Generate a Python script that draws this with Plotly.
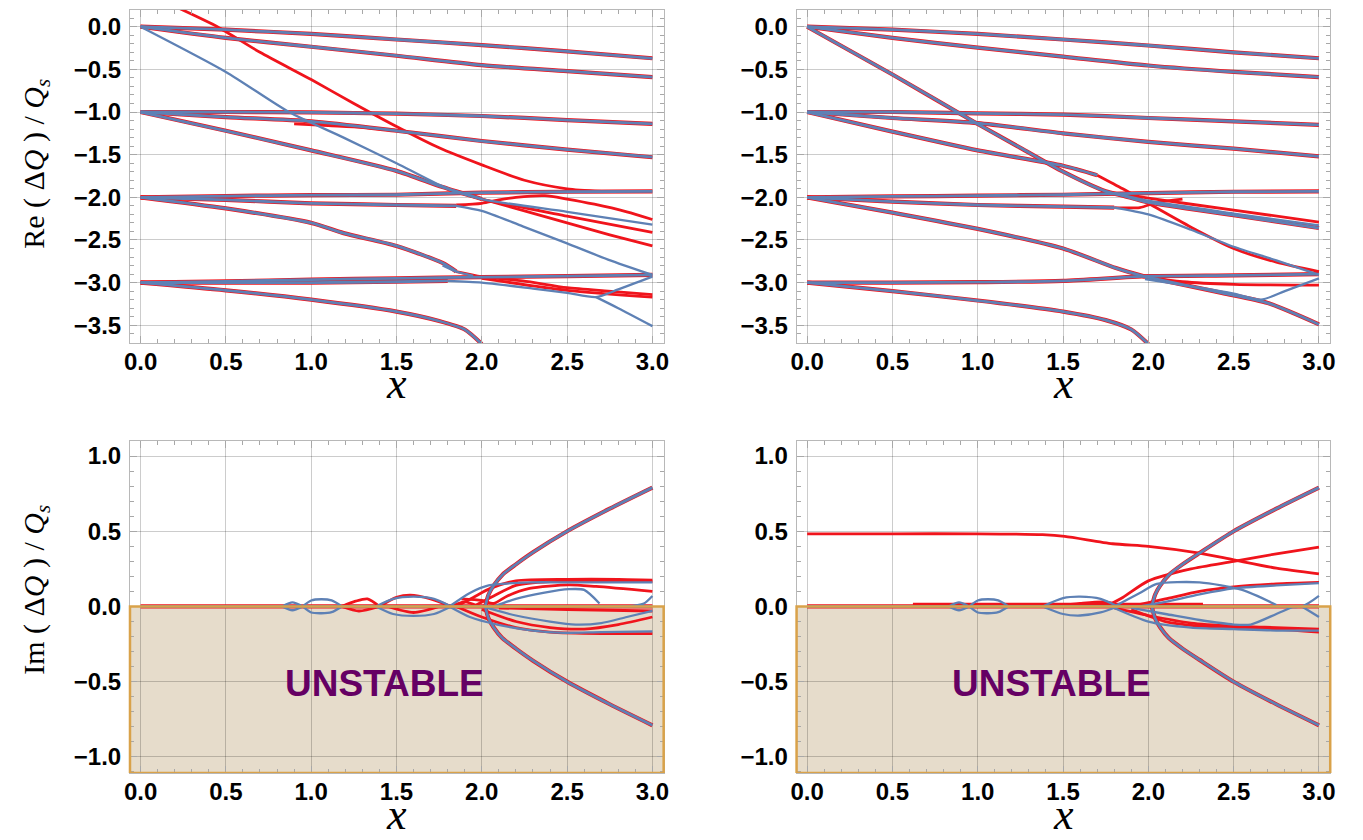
import plotly.graph_objects as go

# ---------------- styling constants ----------------
RED = "#f0141c"
BLUE = "#5e81b5"
FRAME = "#b8b8b8"
TICKC = "#a8a8a8"
GRID = "rgba(0,0,0,0.2)"
TAN = "#e6dccb"
ORANGE = "#d9a24a"
PURPLE_TXT = "#650064"

# ---------------- tick values / labels ----------------
X_TICKS = [0.0, 0.5, 1.0, 1.5, 2.0, 2.5, 3.0]
X_TICK_TEXT = ["0.0", "0.5", "1.0", "1.5", "2.0", "2.5", "3.0"]
RE_TICKS = [0.0, -0.5, -1.0, -1.5, -2.0, -2.5, -3.0, -3.5]
RE_TICK_TEXT = ["0.0", "\u22120.5", "\u22121.0", "\u22121.5", "\u22122.0", "\u22122.5", "\u22123.0", "\u22123.5"]
IM_TICKS = [1.0, 0.5, 0.0, -0.5, -1.0]
IM_TICK_TEXT = ["1.0", "0.5", "0.0", "\u22120.5", "\u22121.0"]

X7 = [0.0, 0.5, 1.0, 1.5, 2.0, 2.5, 3.0]

# ================= Re(dQ)/Qs, left panel =================
re_left_both = [
    (X7, [0.0, -0.035, -0.085, -0.15, -0.215, -0.29, -0.37]),
    (X7, [0.0, -0.13, -0.235, -0.34, -0.45, -0.52, -0.59]),
    (X7, [-1.0, -1.0, -1.005, -1.02, -1.047, -1.094, -1.14]),
    (X7, [-1.0, -1.06, -1.11, -1.22, -1.34, -1.44, -1.53]),
    ([0.0, 0.5, 1.0, 1.5, 1.77, 2.0], [-1.0, -1.22, -1.45, -1.69, -1.88, -2.02]),
    (X7, [-2.0, -1.985, -1.975, -1.97, -1.945, -1.935, -1.93]),
    ([0.0, 0.5, 1.0, 1.5, 1.85], [-2.0, -2.03, -2.07, -2.09, -2.1]),
    ([0.0, 0.5, 1.0, 1.19, 1.5, 1.77, 1.85], [-2.0, -2.13, -2.3, -2.42, -2.57, -2.77, -2.87]),
    (X7, [-3.0, -2.985, -2.965, -2.95, -2.935, -2.925, -2.91]),
    ([0.0, 0.5, 1.0, 1.5, 1.8], [-3.0, -3.0, -3.0, -2.99, -2.98]),
    ([0.0, 0.5, 1.0, 1.5, 1.75, 1.9, 2.0], [-3.0, -3.09, -3.2, -3.34, -3.45, -3.55, -3.72]),
]
re_left_red = [
    ([0.2, 0.45, 0.7, 1.0, 1.25, 1.5, 1.75, 2.0, 2.25, 2.5, 2.7],
     [0.24, 0.0, -0.3, -0.62, -0.9, -1.17, -1.42, -1.62, -1.8, -1.9, -1.93]),
    ([0.9, 1.1, 1.3, 1.45], [-1.14, -1.16, -1.18, -1.21]),
    ([2.0, 2.25, 2.5, 2.75, 3.0], [-2.02, -2.16, -2.3, -2.44, -2.57]),
    ([1.9, 2.0, 2.5, 3.0], [-1.96, -2.02, -2.22, -2.41]),
    ([1.85, 2.0, 2.1, 2.2, 2.37, 2.5, 2.66, 2.85, 3.0],
     [-2.09, -2.07, -2.03, -2.0, -1.98, -2.02, -2.08, -2.17, -2.26]),
    ([1.85, 2.0, 2.24, 2.5, 2.74, 3.0], [-2.87, -2.93, -2.98, -3.06, -3.1, -3.14]),
    ([2.0, 2.5, 3.0], [-2.95, -3.09, -3.17]),
]
re_left_blue = [
    ([0.0, 0.5, 0.87, 1.19, 1.5, 1.77, 2.0, 2.5, 3.0],
     [0.0, -0.53, -1.0, -1.3, -1.6, -1.87, -2.02, -2.17, -2.32]),
    ([1.85, 2.0, 2.24, 2.5, 2.74, 3.0], [-2.1, -2.16, -2.34, -2.54, -2.73, -2.91]),
    ([1.77, 1.85, 1.95], [-2.8, -2.87, -2.92]),
    ([1.8, 2.0, 2.3, 2.5, 2.67, 2.8, 3.0], [-2.98, -3.0, -3.07, -3.12, -3.17, -3.08, -2.93]),
    ([2.67, 2.8, 3.0], [-3.17, -3.3, -3.51]),
]

# ================= Re(dQ)/Qs, right panel =================
re_right_both = [
    (X7, [0.0, -0.035, -0.085, -0.15, -0.22, -0.3, -0.37]),
    (X7, [0.0, -0.13, -0.245, -0.35, -0.455, -0.53, -0.59]),
    (X7, [-1.0, -1.0, -1.015, -1.03, -1.07, -1.11, -1.15]),
    (X7, [-1.0, -1.07, -1.13, -1.25, -1.35, -1.43, -1.52]),
    ([0.0, 0.5, 1.0, 1.5, 1.7], [-1.0, -1.23, -1.45, -1.63, -1.74]),
    ([0.0, 0.5, 1.0, 1.25, 1.5, 1.75, 1.85, 2.0, 2.5, 3.0],
     [0.0, -0.56, -1.14, -1.42, -1.7, -1.93, -1.98, -2.06, -2.21, -2.36]),
    (X7, [-2.0, -1.99, -1.98, -1.97, -1.95, -1.935, -1.93]),
    ([0.0, 0.5, 1.0, 1.5, 1.8], [-2.0, -2.05, -2.09, -2.11, -2.12]),
    ([0.0, 0.5, 1.0, 1.5, 1.81, 1.98], [-2.0, -2.18, -2.37, -2.6, -2.83, -2.93]),
    ([1.98, 2.43, 2.7, 3.0], [-2.93, -3.12, -3.24, -3.49]),
    (X7, [-3.0, -3.0, -2.995, -2.98, -2.925, -2.915, -2.9]),
    ([0.0, 0.5, 1.0, 1.5, 1.75, 1.9, 2.0], [-3.0, -3.1, -3.21, -3.34, -3.44, -3.55, -3.72]),
]
re_right_red = [
    ([1.85, 2.0, 2.5, 3.0], [-1.96, -2.01, -2.15, -2.29]),
    ([1.7, 1.85, 2.0, 2.25, 2.5, 2.75, 3.0], [-1.74, -1.9, -2.07, -2.35, -2.6, -2.76, -2.87]),
    ([1.8, 1.95, 2.05, 2.2], [-2.12, -2.12, -2.06, -2.02]),
    ([1.98, 2.2, 2.5, 3.0], [-2.93, -2.99, -3.02, -3.03]),
]
re_right_blue = [
    ([1.8, 2.0, 2.5, 3.0], [-1.95, -2.04, -2.19, -2.33]),
    ([1.8, 2.0, 2.25, 2.5, 2.75, 3.0], [-2.12, -2.2, -2.38, -2.58, -2.74, -2.91]),
    ([1.98, 2.3, 2.5, 2.66, 2.8, 3.0], [-2.96, -3.06, -3.13, -3.2, -3.1, -2.95]),
]

# ================= Im(dQ)/Qs, left panel =================
im_left_both = [
    ([0.0, 3.0], [0.0, 0.0]),
    ([2.02, 2.04, 2.07, 2.12, 2.2, 2.3, 2.5, 2.75, 3.0], [0.0, 0.08, 0.14, 0.21, 0.28, 0.36, 0.5, 0.65, 0.79]),
    ([2.02, 2.04, 2.07, 2.12, 2.2, 2.3, 2.5, 2.75, 3.0], [0.0, -0.08, -0.14, -0.21, -0.28, -0.36, -0.5, -0.65, -0.79]),
]
im_left_red = [
    ([1.18, 1.26, 1.33, 1.4], [0.0, 0.035, 0.05, 0.0]),
    ([1.18, 1.28, 1.4], [0.0, -0.03, 0.0]),
    ([1.4, 1.5, 1.58, 1.7, 1.82], [0.0, 0.06, 0.075, 0.05, 0.0]),
    ([1.45, 1.6, 1.75], [0.0, -0.04, 0.0]),
    ([1.82, 1.9, 1.98], [0.0, 0.03, 0.0]),
    ([1.85, 1.95, 2.05, 2.2, 2.5, 2.8, 3.0], [0.0, 0.06, 0.12, 0.17, 0.18, 0.18, 0.175]),
    ([1.95, 2.07, 2.2, 2.4, 2.7, 3.0], [0.0, 0.07, 0.14, 0.165, 0.17, 0.165]),
    ([1.88, 2.0, 2.07, 2.15, 2.28, 2.51, 2.67, 3.0], [0.05, 0.04, 0.02, 0.07, 0.12, 0.144, 0.133, 0.1]),
    ([1.85, 2.0, 2.2, 2.4, 2.7, 3.0], [0.0, -0.07, -0.14, -0.17, -0.18, -0.18]),
    ([2.0, 2.2, 2.4, 2.6, 2.8, 3.0], [-0.02, -0.1, -0.14, -0.15, -0.12, -0.07]),
    ([2.1, 2.5, 3.0], [-0.01, -0.02, -0.03]),
]
im_left_blue = [
    ([0.83, 0.89, 0.95], [0.0, 0.027, 0.0]),
    ([0.83, 0.89, 0.95], [0.0, -0.025, 0.0]),
    ([0.95, 1.0, 1.06, 1.12, 1.18], [0.0, 0.04, 0.048, 0.04, 0.0]),
    ([0.95, 1.0, 1.06, 1.12, 1.18], [0.0, -0.04, -0.045, -0.038, 0.0]),
    ([1.38, 1.48, 1.6, 1.72, 1.82], [0.0, 0.05, 0.065, 0.05, 0.0]),
    ([1.38, 1.48, 1.6, 1.72, 1.82], [0.0, -0.05, -0.063, -0.05, 0.0]),
    ([1.81, 1.93, 2.04, 2.28, 2.51, 3.0], [0.0, 0.09, 0.14, 0.16, 0.16, 0.16]),
    ([2.07, 2.2, 2.36, 2.51, 2.6, 2.69], [0.0, 0.05, 0.09, 0.115, 0.11, 0.02]),
    ([2.69, 2.85, 2.95, 3.0], [0.0, 0.0, 0.02, 0.07]),
    ([1.81, 1.93, 2.09, 2.3, 2.48, 2.7, 3.0], [0.0, -0.07, -0.12, -0.16, -0.175, -0.17, -0.165]),
    ([2.0, 2.2, 2.4, 2.55, 2.7, 2.85, 3.0], [0.0, -0.06, -0.1, -0.12, -0.11, -0.07, -0.03]),
]

# ================= Im(dQ)/Qs, right panel =================
im_right_both = [
    ([0.0, 3.0], [0.0, 0.0]),
    ([2.02, 2.04, 2.07, 2.12, 2.2, 2.3, 2.5, 2.75, 3.0], [0.0, 0.08, 0.14, 0.21, 0.28, 0.355, 0.5, 0.65, 0.79]),
    ([2.02, 2.04, 2.07, 2.12, 2.2, 2.3, 2.5, 2.75, 3.0], [0.0, -0.08, -0.14, -0.21, -0.28, -0.355, -0.5, -0.65, -0.79]),
]
im_right_red = [
    ([0.0, 0.5, 1.0, 1.38, 1.51, 1.79, 2.0, 2.3, 2.5, 2.75, 3.0],
     [0.483, 0.483, 0.483, 0.477, 0.466, 0.417, 0.4, 0.355, 0.31, 0.255, 0.217]),
    ([1.75, 1.85, 2.0, 2.25, 2.5, 2.75, 3.0], [0.0, 0.06, 0.17, 0.25, 0.3, 0.35, 0.395]),
    ([1.9, 2.1, 2.3, 2.5, 2.75, 3.0], [0.0, 0.05, 0.1, 0.13, 0.15, 0.16]),
    ([0.62, 1.0, 1.5, 2.0, 2.32], [0.015, 0.015, 0.015, 0.015, 0.015]),
    ([1.45, 1.6, 1.75, 1.85], [0.0, 0.02, 0.03, 0.0]),
    ([1.8, 2.0, 2.25, 2.5, 2.75, 3.0], [-0.01, -0.06, -0.11, -0.13, -0.14, -0.15]),
    ([1.9, 2.1, 2.3, 2.5, 2.75, 3.0], [-0.02, -0.1, -0.13, -0.14, -0.15, -0.17]),
]
im_right_blue = [
    ([0.83, 0.89, 0.95], [0.0, 0.027, 0.0]),
    ([0.83, 0.89, 0.95], [0.0, -0.025, 0.0]),
    ([0.95, 1.0, 1.06, 1.12, 1.18], [0.0, 0.04, 0.048, 0.04, 0.0]),
    ([0.95, 1.0, 1.06, 1.12, 1.18], [0.0, -0.04, -0.045, -0.038, 0.0]),
    ([1.38, 1.5, 1.6, 1.72, 1.82], [0.0, 0.055, 0.065, 0.05, 0.0]),
    ([1.38, 1.5, 1.6, 1.72, 1.82], [0.0, -0.05, -0.06, -0.04, 0.0]),
    ([1.8, 1.95, 2.05, 2.3, 2.55, 2.75], [0.0, 0.09, 0.15, 0.16, 0.11, 0.01]),
    ([1.95, 2.1, 2.3, 2.5, 2.75, 3.0], [0.0, 0.03, 0.08, 0.12, 0.14, 0.155]),
    ([2.75, 2.9, 3.0], [0.0, 0.0, 0.07]),
    ([2.9, 3.0], [0.0, -0.07]),
    ([1.8, 2.0, 2.25, 2.5, 2.75, 3.0], [-0.01, -0.1, -0.14, -0.15, -0.16, -0.16]),
    ([1.9, 2.1, 2.3, 2.5, 2.6, 2.75, 2.85], [-0.01, -0.05, -0.09, -0.12, -0.12, -0.05, 0.0]),
]

# ---------------- layout geometry (paper fractions) ----------------
W, H = 1363, 840
XD_LEFT = [125 / W, 663 / W]
XD_RIGHT = [797 / W, 1335 / W]
YD_TOP = [1 - 343 / H, 1 - 10 / H]
YD_BOT = [1 - 773 / H, 1 - 441 / H]
X_RANGE = [-0.062, 3.066]
RE_RANGE = [-3.708, 0.196]
IM_RANGE = [-1.107, 1.1]

fig = go.Figure()


def add_set(curves, color, width, xa, ya):
    for xs, ys in curves:
        fig.add_trace(go.Scatter(
            x=xs, y=ys, mode="lines",
            line=dict(color=color, width=width, shape="spline", smoothing=0.7),
            xaxis=xa, yaxis=ya, showlegend=False, hoverinfo="skip"))


panels = [
    ("x", "y", re_left_both, re_left_red, re_left_blue),
    ("x2", "y2", re_right_both, re_right_red, re_right_blue),
    ("x3", "y3", im_left_both, im_left_red, im_left_blue),
    ("x4", "y4", im_right_both, im_right_red, im_right_blue),
]
for xa, ya, both, reds, blues in panels:
    add_set(both, RED, 4.2, xa, ya)
    add_set(reds, RED, 2.8, xa, ya)
    add_set(both, BLUE, 2.8, xa, ya)
    add_set(blues, BLUE, 2.3, xa, ya)

tickfont = dict(family="Liberation Sans, Arial, sans-serif", size=24, color="black", weight="bold")


def xaxis_cfg(domain, anchor):
    return dict(domain=domain, anchor=anchor, range=X_RANGE,
                tickvals=X_TICKS, ticktext=X_TICK_TEXT, tickfont=tickfont,
                ticks="inside", ticklen=7, tickwidth=1, tickcolor=TICKC,
                minor=dict(ticks="inside", ticklen=4, dtick=0.1, tick0=0, tickcolor=TICKC, showgrid=False),
                showline=True, linecolor=FRAME, linewidth=1, mirror="ticks",
                showgrid=True, gridcolor=GRID, gridwidth=1, zeroline=False,
                ticklabelstandoff=-3)


def yaxis_cfg(domain, anchor, rng, vals, text):
    return dict(domain=domain, anchor=anchor, range=rng,
                tickvals=vals, ticktext=text, tickfont=tickfont,
                ticks="inside", ticklen=7, tickwidth=1, tickcolor=TICKC,
                minor=dict(ticks="inside", ticklen=4, dtick=0.1, tick0=0, tickcolor=TICKC, showgrid=False),
                showline=True, linecolor=FRAME, linewidth=1, mirror="ticks",
                showgrid=True, gridcolor=GRID, gridwidth=1, zeroline=False,
                ticklabelstandoff=3)


fig.update_layout(
    width=W, height=H, margin=dict(l=0, r=0, t=0, b=0),
    paper_bgcolor="white", plot_bgcolor="white", showlegend=False,
    xaxis=xaxis_cfg(XD_LEFT, "y"),
    xaxis2=xaxis_cfg(XD_RIGHT, "y2"),
    xaxis3=xaxis_cfg(XD_LEFT, "y3"),
    xaxis4=xaxis_cfg(XD_RIGHT, "y4"),
    yaxis=yaxis_cfg(YD_TOP, "x", RE_RANGE, RE_TICKS, RE_TICK_TEXT),
    yaxis2=yaxis_cfg(YD_TOP, "x2", RE_RANGE, RE_TICKS, RE_TICK_TEXT),
    yaxis3=yaxis_cfg(YD_BOT, "x3", IM_RANGE, IM_TICKS, IM_TICK_TEXT),
    yaxis4=yaxis_cfg(YD_BOT, "x4", IM_RANGE, IM_TICKS, IM_TICK_TEXT),
)

# unstable half-planes of the growth-rate panels
for xa, ya in (("x3", "y3"), ("x4", "y4")):
    fig.add_shape(type="rect", xref=f"{xa} domain", yref=ya, x0=0, x1=1, y0=0, y1=IM_RANGE[0],
                  fillcolor=TAN, line=dict(width=0), layer="below")
    fig.add_shape(type="rect", xref=f"{xa} domain", yref=ya, x0=0, x1=1, y0=0, y1=IM_RANGE[0],
                  fillcolor="rgba(0,0,0,0)", line=dict(color=ORANGE, width=2.5), layer="above")
    fig.add_annotation(x=1.43, y=-0.51, xref=xa, yref=ya, text="UNSTABLE", showarrow=False,
                       xanchor="center", yanchor="middle",
                       font=dict(family="Liberation Sans, Arial, sans-serif", size=37,
                                 color=PURPLE_TXT, weight="bold"))

serif = "Liberation Serif, Times New Roman, serif"
re_title = "Re ( \u0394<i>Q</i> ) / <i>Q</i><sub><i>s</i></sub>"
im_title = "Im ( \u0394<i>Q</i> ) / <i>Q</i><sub><i>s</i></sub>"
for ytxt, yc in ((re_title, 164), (im_title, 590)):
    fig.add_annotation(x=30 / W, y=1 - yc / H, xref="paper", yref="paper", text=ytxt,
                       xanchor="center", yanchor="middle",
                       textangle=-90, showarrow=False, font=dict(family=serif, size=30, color="black"))
for xc in (394, 1066):
    # x-axis titles: upper row centred under the top panels, lower row sitting on the page bottom
    fig.add_annotation(x=xc / W, y=1 - 384 / H, xref="paper", yref="paper", text="<i>x</i>",
                       xanchor="center", yanchor="middle",
                       showarrow=False, font=dict(family=serif, size=44, color="black"))
    fig.add_annotation(x=xc / W, y=0, xref="paper", yref="paper", text="<i>x</i>",
                       xanchor="center", yanchor="bottom", borderpad=0,
                       showarrow=False, font=dict(family=serif, size=44, color="black"))

fig.write_html("out.html")
